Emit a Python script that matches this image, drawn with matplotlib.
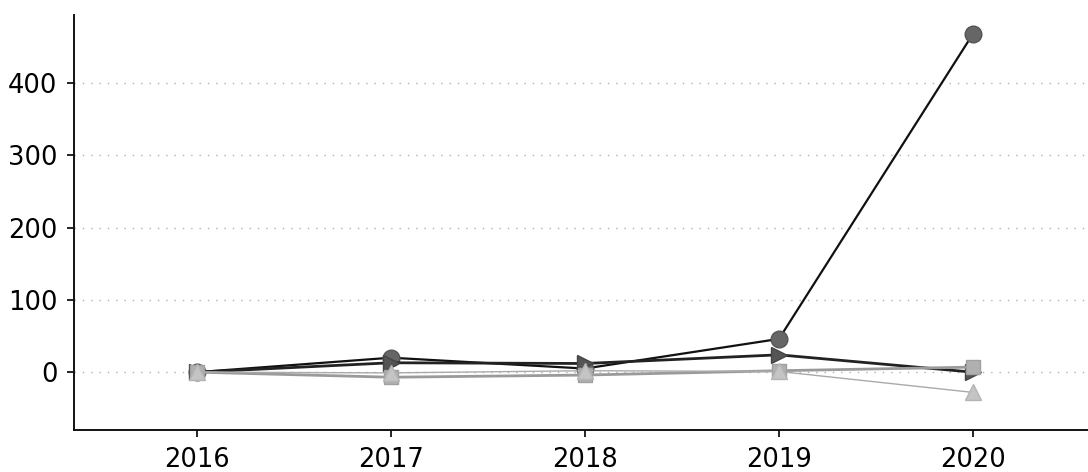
import matplotlib
matplotlib.use("Agg")
import matplotlib.pyplot as plt

years = [2016, 2017, 2018, 2019, 2020]
series_circle = [0, 20, 5, 46, 468]
series_tri_right = [0, 13, 12, 24, 0]
series_square = [0, -7, -4, 2, 7]
series_tri_up = [0, -1, 2, 1, -28]
yticks = [0, 100, 200, 300, 400]

plt.rcParams['font.family'] = ['DejaVu Sans']
fig = plt.figure(figsize=(10.88, 4.72), dpi=100)
ax = fig.add_axes([0.068, 0.089, 0.932, 0.879])

ax.plot(years, series_circle, color='#111111', lw=1.6, marker='o', ms=12,
        markerfacecolor='#666666', markeredgecolor='#555555', zorder=3)
ax.plot(years, series_tri_right, color='#222222', lw=2.0, marker='>', ms=12,
        markerfacecolor='#555555', markeredgecolor='#444444', zorder=4)
ax.plot(years, series_square, color='#9a9a9a', lw=2.0, marker='s', ms=10,
        markerfacecolor='#b0b0b0', markeredgecolor='#a0a0a0', zorder=5)
ax.plot(years, series_tri_up, color='#aaaaaa', lw=1.0, marker='^', ms=11,
        markerfacecolor='#c4c4c4', markeredgecolor='#b4b4b4', zorder=6)

ax.set_xlim(2015.366, 2020.593)
ax.set_ylim(-80, 494)
ax.set_xticks(years)
ax.set_xticklabels([str(y) for y in years])
ax.set_yticks(yticks)
ax.tick_params(labelsize=18.5, length=5, width=1.2, colors='black')
ax.tick_params(axis='x', pad=7)
ax.tick_params(axis='y', pad=7)
ax.yaxis.grid(True, linestyle=(0, (1, 5)), color='#b0b0b0', lw=1)
ax.set_axisbelow(True)
for s in ['top', 'right']:
    ax.spines[s].set_visible(False)
for s in ['left', 'bottom']:
    ax.spines[s].set_linewidth(1.4)
    ax.spines[s].set_color('#111111')

fig.savefig('out.png', dpi=100)
